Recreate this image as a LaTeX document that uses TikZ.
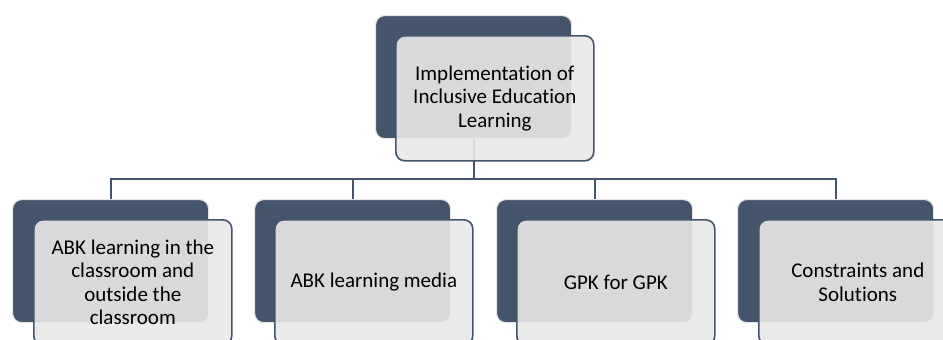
\documentclass[tikz,border=0pt]{standalone}
\usepackage{fontspec}
\setmainfont{Carlito}[Ligatures=NoCommon]
\definecolor{slate}{HTML}{44546A}
\definecolor{paper}{HTML}{E8E8E8}
\tikzset{
  back/.style={draw=black!10, line width=1.2pt, fill=slate, rounded corners=9pt,
    minimum width=196pt, minimum height=123pt, inner sep=0pt, anchor=north west},
  front/.style={draw=slate, line width=1.6pt, fill=paper, fill opacity=0.9, text opacity=1,
    rounded corners=9pt, minimum width=198pt, minimum height=125pt, inner sep=0pt,
    anchor=north west, align=center, font=\fontsize{21}{23.5}\selectfont},
  link/.style={draw=slate, line width=2pt}
}
\begin{document}
\begin{tikzpicture}[x=1pt,y=-1pt]
    \useasboundingbox (0,0) rectangle (943,340);
    \clip (0,0) rectangle (943,340);

    % dark back plates
    \node[back] (topback) at (375,15) {};
    \node[back] (b1back) at (12,199) {};
    \node[back] (b2back) at (254,199) {};
    \node[back] (b3back) at (496,199) {};
    \node[back] (b4back) at (737,199) {};

    % connectors
    \draw[link] (topback.south) -- ++(0,40) -| (b1back.north);
    \draw[link] (topback.south) -- ++(0,40) -| (b2back.north);
    \draw[link] (topback.south) -- ++(0,40) -| (b3back.north);
    \draw[link] (topback.south) -- ++(0,40) -| (b4back.north);

    % light front boxes
    \node[front] (top) at (395,35) {Implementation of\\Inclusive Education\\Learning};
    \node[front] (b1) at (33,219) {ABK learning in the\\classroom and\\outside the\\classroom};
    \node[front] (b2) at (274,219) {ABK learning media};
    \node[front] (b3) at (516,219) {GPK for GPK};
    \node[front] (b4) at (758,219) {Constraints and\\Solutions};
\end{tikzpicture}
\end{document}
